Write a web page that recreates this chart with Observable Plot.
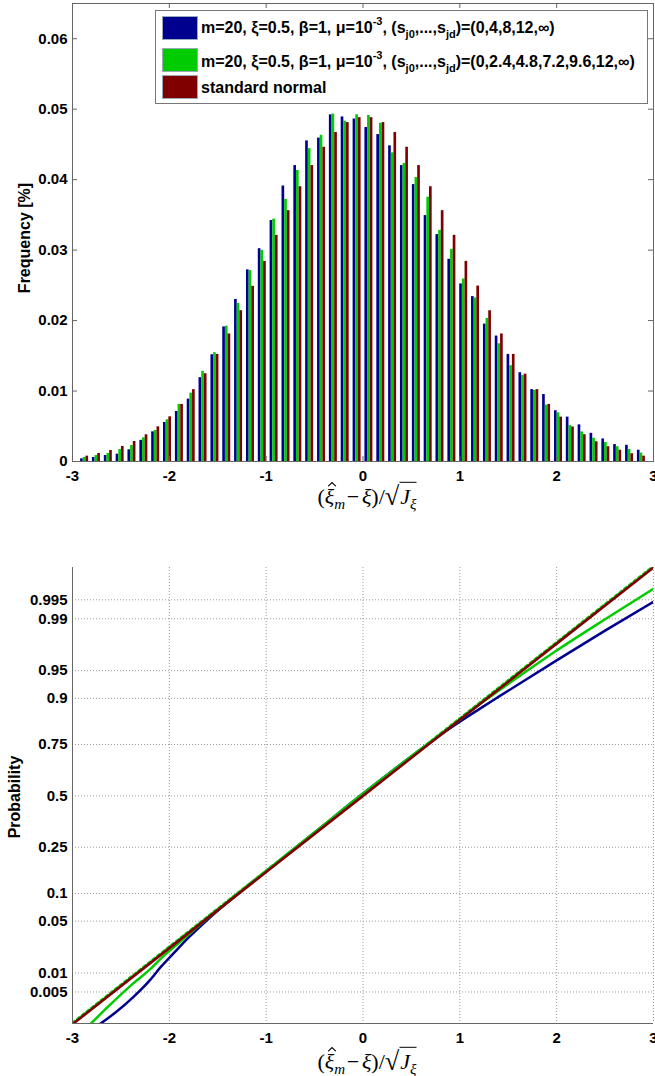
<!DOCTYPE html>
<html>
<head>
<meta charset="utf-8">
<script src="https://cdn.jsdelivr.net/npm/d3@7"></script>
<script src="https://cdn.jsdelivr.net/npm/@observablehq/plot@0.6"></script>
<style>
  html, body { margin: 0; padding: 0; background: #fff; }
  #wrap { position: relative; width: 655px; height: 1076px; overflow: hidden; font-family: "Liberation Sans", Arial, sans-serif; }
  #top, #bottom { position: absolute; left: 0; }
  #top { top: 0; }
  #bottom { top: 520px; }
  .ytitle { position: absolute; font-weight: bold; font-size: 16px; line-height: 1; white-space: nowrap; transform: translate(-50%, -50%) rotate(-90deg); }
  .xlabel { position: absolute; font-family: "Liberation Serif", "DejaVu Serif", serif; font-size: 22px; line-height: 1; white-space: nowrap; transform: translate(-50%, -50%); }
  .xlabel i { font-style: italic; }
  .xlabel sub { font-size: 15px; vertical-align: 0; position: relative; top: 0.3em; }
  .acc { position: relative; display: inline-block; }
  .hat { position: absolute; left: 3px; top: -4px; }
  .rad { font-size: 1.2em; position: relative; top: 0.04em; }
  .ov { border-top: 1.3px solid #000; padding-top: 1px; padding-left: 1px; }
  .op { padding: 0 0.12em 0 0.08em; }
  #legend { position: absolute; left: 155px; top: 10px; width: 491px; height: 92px; border: 1px solid #777; background: #fff; }
  .sw { position: absolute; left: 6px; width: 36px; height: 24px; box-sizing: border-box; border: 1px solid #9ab; }
  .lt { position: absolute; left: 45px; font-weight: bold; font-size: 16px; line-height: 16px; white-space: nowrap; }
  .lt sup { font-size: 11px; vertical-align: 0; position: relative; top: -0.75em; }
  .lt sub { font-size: 11px; vertical-align: 0; position: relative; top: 0.45em; }
</style>
</head>
<body>
<div id="wrap">
  <div id="top"></div>
  <div id="bottom"></div>
</div>
<script>
// ---------- DATA ----------
// histogram bin centres (standardised estimator)
const binCenters = [-2.875,-2.753,-2.630,-2.508,-2.386,-2.263,-2.141,-2.019,-1.896,-1.774,-1.652,-1.529,-1.407,-1.285,-1.162,-1.040,
  -0.918,-0.795,-0.673,-0.551,-0.428,-0.306,-0.184,-0.061,0.061,0.184,0.306,0.428,0.551,0.673,0.795,0.918,
  1.040,1.162,1.285,1.407,1.529,1.652,1.774,1.896,2.019,2.141,2.263,2.386,2.508,2.630,2.753,2.875];
// series 1: (0,4,8,12,inf)
const freqBlue = [0.00038,0.00057,0.00085,0.00104,0.00166,0.0030,0.00421,0.00554,0.0071,0.00885,0.0119,0.01515,0.0191,0.0230,0.0272,0.0302,
  0.0342,0.0391,0.0420,0.0455,0.0459,0.0492,0.0489,0.0486,0.0474,0.0464,0.0448,0.0420,0.0393,0.0349,0.0322,0.0287,
  0.0252,0.0234,0.0195,0.0178,0.0152,0.0126,0.0102,0.0095,0.0072,0.0063,0.0052,0.0040,0.0032,0.0024,0.0023,0.0016];
// series 2: (0,2.4,4.8,7.2,9.6,12,inf)
const freqGreen = [0.00057,0.00085,0.00114,0.0017,0.00227,0.00336,0.0044,0.00592,0.0081,0.0097,0.0128,0.01544,0.0192,0.02244,0.0271,0.02997,
  0.0344,0.0372,0.0413,0.0444,0.0463,0.0493,0.0483,0.0492,0.0491,0.0480,0.0438,0.0423,0.0403,0.0375,0.0328,0.0301,
  0.0259,0.0232,0.0203,0.0167,0.0136,0.0122,0.0101,0.0080,0.0069,0.0051,0.0042,0.0033,0.0027,0.0021,0.0017,0.0012];
// series 3: standard normal
const freqRed = [0.00076,0.00114,0.00156,0.00213,0.00284,0.00379,0.00492,0.00634,0.0081,0.0102,0.01245,0.0152,0.0181,0.0214,0.02486,0.0284,
  0.0321,0.0356,0.0390,0.0420,0.0446,0.0467,0.0481,0.0488,0.0488,0.0481,0.0467,0.0446,0.0420,0.0390,0.0356,0.0321,
  0.0284,0.0249,0.0214,0.0181,0.0152,0.0124,0.0102,0.0081,0.0063,0.0049,0.0038,0.0028,0.0021,0.0016,0.0011,0.00076];

// normal probability plot: x value and cumulative probability
const cdfBlueX = [-2.71,-2.55,-2.37,-2.20,-2.09,-1.95,-1.80,-1.60,-1.40,-1.20,-1.00,-0.50,0.00,0.50,0.90,1.20,1.41,2.00,2.50,3.00];
const cdfBlueP = [0.00139,0.00226,0.00415,0.00776,0.01222,0.01970,0.03144,0.05262,0.08076,0.11702,0.16109,0.31561,0.51197,0.69847,0.81327,0.87286,0.90490,0.96246,0.98500,0.99461];
const cdfGreenX = [-2.81,-2.60,-2.37,-2.20,-2.09,-1.90,-1.70,-1.50,-1.20,-1.00,-0.50,0.00,0.50,1.00,1.20,1.41,2.00,2.50,3.00];
const cdfGreenP = [0.00139,0.00317,0.00695,0.01130,0.01618,0.02680,0.04363,0.06681,0.11702,0.16109,0.31561,0.51197,0.69847,0.84134,0.88493,0.91774,0.97193,0.98983,0.99674];
const cdfRedX = [-3,-2,-1,0,1,2,3];
const cdfRedP = [0.00135,0.02275,0.15866,0.5,0.84134,0.97725,0.99865];

const xTicks = [-3,-2,-1,0,1,2,3];
const freqTicks = [0,0.01,0.02,0.03,0.04,0.05,0.06];
const probTicks = [0.005,0.01,0.05,0.1,0.25,0.5,0.75,0.9,0.95,0.99,0.995];

const seriesNames = ["blue","green","red"];
const colors = {blue: "#00008f", green: "#00cc00", red: "#800000"};

// ---------- helpers ----------
function probit(p) {
  const a=[-3.969683028665376e+01,2.209460984245205e+02,-2.759285104469687e+02,1.383577518672690e+02,-3.066479806614716e+01,2.506628277459239e+00];
  const b=[-5.447609879822406e+01,1.615858368580409e+02,-1.556989798598866e+02,6.680131188771972e+01,-1.328068155288572e+01];
  const c=[-7.784894002430293e-03,-3.223964580411365e-01,-2.400758277161838e+00,-2.549732539343734e+00,4.374664141464968e+00,2.938163982698783e+00];
  const d=[7.784695709041462e-03,3.224671290700398e-01,2.445134137142996e+00,3.754408661907416e+00];
  const pl = 0.02425, ph = 1 - pl;
  if (p < pl) { const q = Math.sqrt(-2*Math.log(p)); return (((((c[0]*q+c[1])*q+c[2])*q+c[3])*q+c[4])*q+c[5])/((((d[0]*q+d[1])*q+d[2])*q+d[3])*q+1); }
  if (p <= ph) { const q = p - 0.5, r = q*q; return (((((a[0]*r+a[1])*r+a[2])*r+a[3])*r+a[4])*r+a[5])*q/(((((b[0]*r+b[1])*r+b[2])*r+b[3])*r+b[4])*r+1); }
  const q = Math.sqrt(-2*Math.log(1-p)); return -(((((c[0]*q+c[1])*q+c[2])*q+c[3])*q+c[4])*q+c[5])/((((d[0]*q+d[1])*q+d[2])*q+d[3])*q+1);
}

const W = 655;
const axisColor = "#666";
const tickFont = {fontSize: 15, fontWeight: "bold", fill: "#000"};

// ---------- TOP: histogram ----------
const freqs = {blue: freqBlue, green: freqGreen, red: freqRed};
const bars = [];
seriesNames.forEach((s, k) => {
  binCenters.forEach((c, i) => bars.push({center: c, k, series: s, value: freqs[s][i]}));
});
const barStep = 0.0275, barW = 0.0275;

const topM = {l: 72, r: 2, t: 3, b: 59};
const topH = 520;
const pw = W - topM.l - topM.r, phTop = topH - topM.t - topM.b;

const topPlot = Plot.plot({
  width: W, height: topH,
  marginLeft: topM.l, marginRight: topM.r, marginTop: topM.t, marginBottom: topM.b,
  style: {fontFamily: "'Liberation Sans', Arial, sans-serif", background: "#fff"},
  x: {domain: [-3, 3], label: null},
  y: {domain: [0, 0.065], label: null},
  marks: [
    Plot.rectY(bars, {
      x1: d => d.center + (d.k - 1) * barStep - barW / 2,
      x2: d => d.center + (d.k - 1) * barStep + barW / 2,
      y1: 0, y2: "value",
      fill: d => colors[d.series]
    }),
    // inward ticks
    Plot.tickY(freqTicks, {y: d => d, stroke: axisColor, insetRight: pw - 5}),
    Plot.tickY(freqTicks, {y: d => d, stroke: axisColor, insetLeft: pw - 5}),
    Plot.tickX(xTicks, {x: d => d, stroke: axisColor, insetTop: phTop - 5}),
    Plot.tickX(xTicks, {x: d => d, stroke: axisColor, insetBottom: phTop - 5}),
    Plot.frame({stroke: axisColor}),
    Plot.axisY(freqTicks, {anchor: "left", tickSize: 0, tickPadding: 5, tickFormat: d => String(d), label: null, ...tickFont}),
    Plot.axisX(xTicks, {anchor: "bottom", tickSize: 0, tickPadding: 9, tickFormat: d => String(d), label: null, ...tickFont})
  ]
});
document.getElementById("top").appendChild(topPlot);

// ---------- BOTTOM: normal probability plot ----------
const cdfRows = [];
const cdfSets = [["blue", cdfBlueX, cdfBlueP], ["green", cdfGreenX, cdfGreenP]];
cdfSets.forEach(([s, xs, ps]) => xs.forEach((x, i) => cdfRows.push({series: s, x, p: ps[i]})));
const refRows = cdfRedX.map((x, i) => ({x, p: cdfRedP[i]}));

const botM = {l: 72, r: 2, t: 47, b: 53};
const botH = 556;
const zDomain = [-2.99, 3.0];
const zTicks = probTicks.map(probit);
const gridStyle = {stroke: "#999", strokeOpacity: 1, strokeDasharray: "1,2", strokeWidth: 1};

const botPlot = Plot.plot({
  width: W, height: botH,
  marginLeft: botM.l, marginRight: botM.r, marginTop: botM.t, marginBottom: botM.b,
  style: {fontFamily: "'Liberation Sans', Arial, sans-serif", background: "#fff"},
  x: {domain: [-3, 3], label: null},
  y: {domain: zDomain, label: null},
  marks: [
    Plot.gridX(xTicks.slice(1), gridStyle),
    Plot.gridY(zTicks, gridStyle),
    Plot.line(cdfRows.filter(d => d.series === "blue"), {x: "x", y: d => probit(d.p), stroke: colors.blue, strokeWidth: 2.5, curve: "monotone-x", clip: true}),
    Plot.line(cdfRows.filter(d => d.series === "green"), {x: "x", y: d => probit(d.p), stroke: colors.green, strokeWidth: 2.5, curve: "monotone-x", clip: true}),
    Plot.line(refRows, {x: "x", y: d => probit(d.p), stroke: colors.green, strokeWidth: 2.6, strokeDasharray: "3,3", dy: -1.4, clip: true}),
    Plot.line(refRows, {x: "x", y: d => probit(d.p), stroke: colors.red, strokeWidth: 2.6, clip: true}),
    Plot.ruleX([-3], {stroke: axisColor}),
    Plot.ruleY([zDomain[0]], {stroke: axisColor}),
    Plot.axisY(zTicks, {anchor: "left", tickSize: 0, tickPadding: 5, tickFormat: (z, i) => String(probTicks[i]), label: null, ...tickFont}),
    Plot.axisX(xTicks, {anchor: "bottom", tickSize: 0, tickPadding: 9, tickFormat: d => String(d), label: null, ...tickFont})
  ]
});
document.getElementById("bottom").appendChild(botPlot);

// ---------- text overlays ----------
const wrap = document.getElementById("wrap");
function addDiv(cls, html, left, top) {
  const d = document.createElement("div");
  d.className = cls; d.innerHTML = html;
  d.style.left = left + "px"; d.style.top = top + "px";
  wrap.appendChild(d); return d;
}
addDiv("ytitle", "Frequency [%]", 25, 238);
addDiv("ytitle", "Probability", 15, 797);
const hatSvg = '<svg class="hat" width="9" height="5" viewBox="0 0 9 5"><polyline points="0.5,4.5 4.5,0.8 8.5,4.5" fill="none" stroke="#000" stroke-width="1.1"/></svg>';
const xlab = '(<span class="acc"><i>ξ</i>' + hatSvg + '</span><sub><i>m</i></sub><span class="op">−</span><i>ξ</i>)/<span class="rad">√</span><span class="ov"><i>J</i><sub><i>ξ</i></sub></span>';
addDiv("xlabel", xlab, 367, 495);
addDiv("xlabel", xlab, 367, 1060);

// legend
const legendRows = [
  {series: "blue", html: 'm=20, ξ=0.5, β=1, μ=10<sup>-3</sup>, (s<sub>j0</sub>,...,s<sub>jd</sub>)=(0,4,8,12,∞)', sw: 5, tx: 9},
  {series: "green", html: 'm=20, ξ=0.5, β=1, μ=10<sup>-3</sup>, (s<sub>j0</sub>,...,s<sub>jd</sub>)=(0,2.4,4.8,7.2,9.6,12,∞)', sw: 37, tx: 43},
  {series: "red", html: 'standard normal', sw: 64, tx: 69}
];
const leg = document.createElement("div");
leg.id = "legend";
legendRows.forEach(r => {
  const s = document.createElement("div"); s.className = "sw"; s.style.top = r.sw + "px"; s.style.background = colors[r.series]; leg.appendChild(s);
  const t = document.createElement("div"); t.className = "lt"; t.style.top = r.tx + "px"; t.innerHTML = r.html; leg.appendChild(t);
});
wrap.appendChild(leg);
</script>
</body>
</html>
